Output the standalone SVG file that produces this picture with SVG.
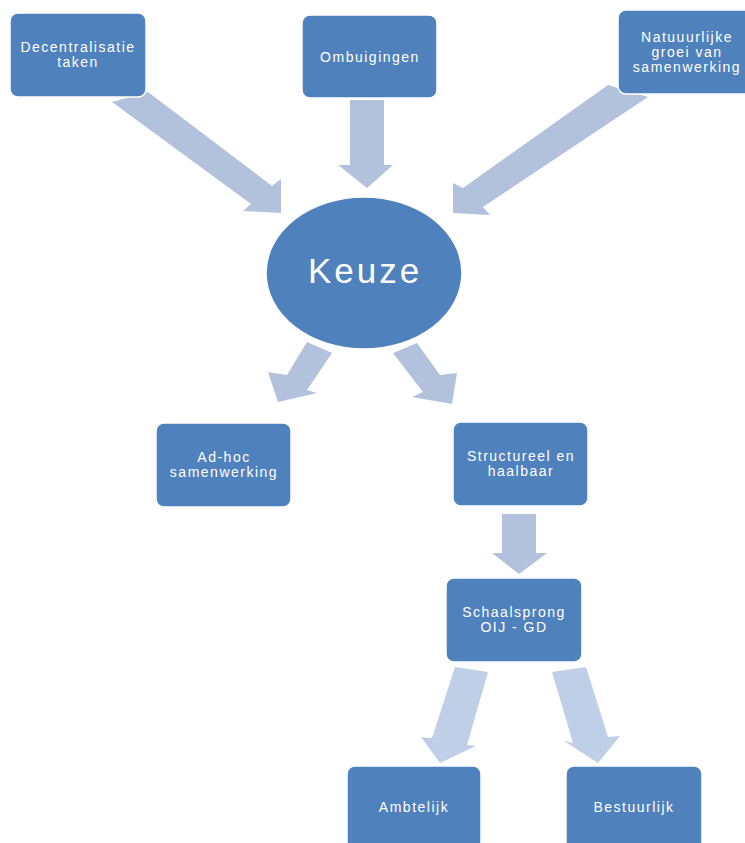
<svg xmlns="http://www.w3.org/2000/svg" width="745" height="843" viewBox="0 0 745 843">
<style>
.box{fill:#4f81bd;stroke:#ffffff;stroke-width:1.5}
.t{fill:#ffffff;font-family:"Liberation Sans",Arial,sans-serif;font-size:14px;letter-spacing:1.5px;text-anchor:middle}
.big{fill:#ffffff;font-family:"Liberation Sans",Arial,sans-serif;font-size:35px;letter-spacing:3px;text-anchor:middle}
.a1{fill:#b2c2dc}
.a2{fill:#bfcfe8}
</style>
<rect width="745" height="843" fill="#ffffff"/>
<g id="connectors">
<polygon class="a1" points="148,92 272,186 281,179 281,213 243,211 251,204 112,102"/>
<polygon class="a1" points="350,100 384,100 384,165 393,165 367,188 338,165 350,165"/>
<polygon class="a1" points="608,85 648,97 483,207 490,215 453,213 453,183 463,188"/>
<polygon class="a1" points="307,342 332,353 307,390 317,393 278,402 268,372 287,375"/>
<polygon class="a1" points="393,353 417,343 440,375 457,373 452,404 412,397 423,392"/>
<polygon class="a1" points="502,514 536,514 536,553 547,553 519,574 492,553 502,553"/>
<polygon class="a2" points="455,667 488,672 467,745 476,746 440,763 421,737 432,738"/>
<polygon class="a2" points="552,672 586,667 608,737 620,736 598,763 564,741 573,743"/>
</g>
<g id="decentralisatie">
<rect class="box" x="10" y="13" width="136" height="84" rx="8"/>
<text class="t" x="78" y="52">Decentralisatie</text>
<text class="t" x="78" y="67">taken</text>
</g>
<g id="ombuigingen">
<rect class="box" x="302" y="15" width="135" height="83" rx="8"/>
<text class="t" x="370" y="62">Ombuigingen</text>
</g>
<g id="natuurlijke">
<rect class="box" x="618" y="10" width="136" height="84" rx="8"/>
<text class="t" x="687" y="42">Natuuurlijke</text>
<text class="t" x="687" y="57">groei van</text>
<text class="t" x="687" y="72">samenwerking</text>
</g>
<g id="keuze">
<ellipse class="box" cx="364" cy="273" rx="98" ry="76"/>
<text class="big" x="365" y="283">Keuze</text>
</g>
<g id="adhoc">
<rect class="box" x="156" y="423" width="135" height="84" rx="8"/>
<text class="t" x="224" y="462">Ad-hoc</text>
<text class="t" x="224" y="477">samenwerking</text>
</g>
<g id="structureel">
<rect class="box" x="453" y="422" width="135" height="84" rx="8"/>
<text class="t" x="521" y="461">Structureel en</text>
<text class="t" x="521" y="476">haalbaar</text>
</g>
<g id="schaalsprong">
<rect class="box" x="446" y="578" width="136" height="84" rx="8"/>
<text class="t" x="514" y="617">Schaalsprong</text>
<text class="t" x="514" y="632">OIJ - GD</text>
</g>
<g id="ambtelijk">
<rect class="box" x="347" y="766" width="134" height="84" rx="8"/>
<text class="t" x="414" y="812">Ambtelijk</text>
</g>
<g id="bestuurlijk">
<rect class="box" x="566" y="766" width="136" height="84" rx="8"/>
<text class="t" x="634" y="812">Bestuurlijk</text>
</g>
</svg>
